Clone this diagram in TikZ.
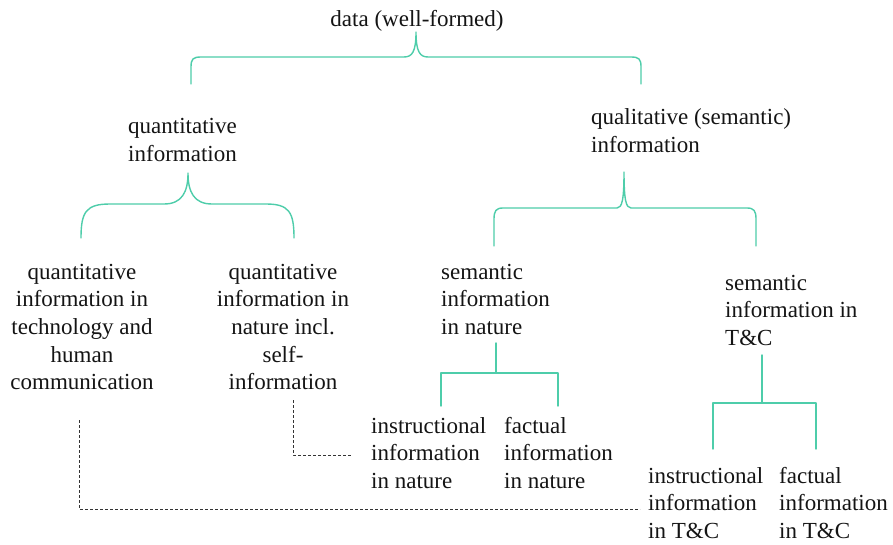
\documentclass[tikz,border=0pt]{standalone}
\usepackage{fontspec}
\setmainfont{Liberation Serif}
\definecolor{tealline}{RGB}{78,205,170}
\begin{document}
\begin{tikzpicture}[x=1pt,y=-1pt,
  txt/.style={inner sep=0pt, font=\fontsize{23}{27.7}\selectfont, text=black!92},
  lbox/.style={txt, align=left, anchor=north west},
  cbox/.style={txt, align=center, anchor=north},
  bracepath/.style={draw=tealline, line width=1.4pt, line cap=round, line join=round},
  dashline/.style={draw=black!80, line width=0.8pt, dash pattern=on 3pt off 2pt}]
\useasboundingbox (0,0) rectangle (893,545);
\fill[white] (0,0) rectangle (893,545);

% text nodes
\node[cbox] (data) at (417,7) {\strut data (well-formed)};
\node[lbox] (quant) at (128,114) {\strut quantitative\\information};
\node[lbox] (qual) at (591,105) {\strut qualitative (semantic)\\information};
\node[cbox] (qtech) at (82,259.5) {\strut quantitative\\information in\\technology and\\human\\communication};
\node[cbox] (qnat) at (283,259.5) {\strut quantitative\\information in\\nature incl.\\self-\\information};
\node[lbox] (snat) at (441,259.5) {\strut semantic\\information\\in nature};
\node[lbox] (stc) at (725,270.5) {\strut semantic\\information in\\T\&C};
\node[lbox] (inat) at (371,413.5) {\strut instructional\\information\\in nature};
\node[lbox] (fnat) at (504,413.5) {\strut factual\\information\\in nature};
\node[lbox] (itc) at (648,463.5) {\strut instructional\\information\\in T\&C};
\node[lbox] (ftc) at (779,463.5) {\strut factual\\information\\in T\&C};

% connector points
\coordinate (tA) at (416,32);
\coordinate (tAL) at (191,84);
\coordinate (tAR) at (641,84);
\coordinate (tB) at (188,173);
\coordinate (tBL) at (81,238);
\coordinate (tBR) at (294,238);
\coordinate (tC) at (624,172);
\coordinate (tCL) at (494,246);
\coordinate (tCR) at (756,246);

% top brace: data -> quantitative / qualitative
\draw[bracepath] (tAL) -- (191,67) .. controls (191,59) and (193,57) .. (201,57)
  -- (404,57) .. controls (412,57) and (416,52) .. (tA)
  .. controls (416,52) and (420,57) .. (428,57)
  -- (631,57) .. controls (639,57) and (641,59) .. (641,67) -- (tAR);

% quantitative brace
\draw[bracepath] (tBL) .. controls (81,212) and (86,204) .. (110,204)
  -- (164,204) .. controls (182,204) and (188,192) .. (tB)
  .. controls (188,192) and (194,204) .. (212,204)
  -- (266,204) .. controls (289,204) and (294,212) .. (tBR);

% qualitative brace
\draw[bracepath] (tCL) -- (494,219) .. controls (494,211) and (496,208) .. (503,208)
  -- (617,208) .. controls (622,208) and (624,200) .. (tC)
  .. controls (624,200) and (626,208) .. (631,208)
  -- (747,208) .. controls (754,208) and (756,211) .. (756,219) -- (tCR);

% semantic nature tree
\coordinate (sn0) at (496,343);
\coordinate (sn1) at (496,373);
\coordinate (snL) at (441,406);
\coordinate (snR) at (558,406);
\draw[bracepath] (sn0) -- (sn1);
\draw[bracepath] (snL) |- (sn1) -| (snR);

% semantic T&C tree
\coordinate (st0) at (762,355);
\coordinate (st1) at (762,403);
\coordinate (stL) at (713,449);
\coordinate (stR) at (816,449);
\draw[bracepath] (st0) -- (st1);
\draw[bracepath] (stL) |- (st1) -| (stR);

% dashed links
\coordinate (dq0) at (293,400);
\coordinate (dq1) at (352,455);
\draw[dashline] (dq0) |- (dq1);
\coordinate (dt0) at (79,420);
\coordinate (dt1) at (640,509);
\draw[dashline] (dt0) |- (dt1);
\end{tikzpicture}
\end{document}
